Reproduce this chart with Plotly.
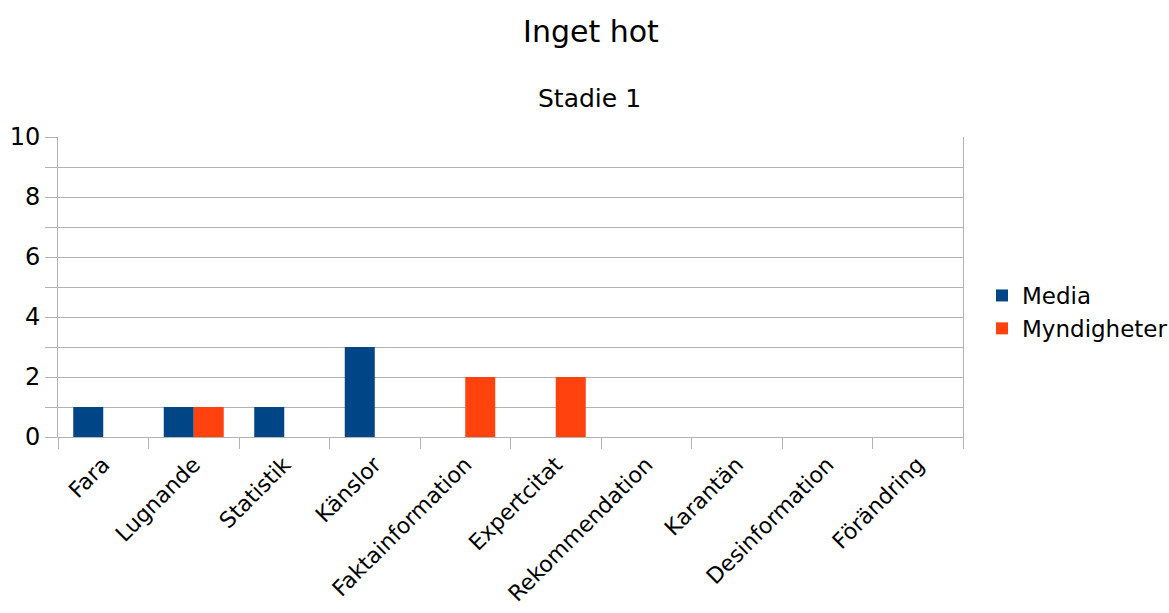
import plotly.graph_objects as go

categories = ["Fara", "Lugnande", "Statistik", "Känslor", "Faktainformation",
              "Expertcitat", "Rekommendation", "Karantän", "Desinformation", "Förändring"]
media = [1, 1, 1, 3, 0, 0, 0, 0, 0, 0]
myndigheter = [0, 1, 0, 0, 2, 2, 0, 0, 0, 0]
y_ticks = [0, 2, 4, 6, 8, 10]

FONT = "DejaVu Sans"
GRID = "#b3b3b3"

fig = go.Figure()
fig.add_trace(go.Bar(x=categories, y=media, name="Media", marker_color="#004586",
                     marker_line_width=0))
fig.add_trace(go.Bar(x=categories, y=myndigheter, name="Myndigheter", marker_color="#ff420e",
                     marker_line_width=0))

fig.update_layout(
    width=1169, height=613,
    margin=dict(l=58, r=206, t=137, b=176, autoexpand=False),
    paper_bgcolor="white", plot_bgcolor="white",
    font=dict(family=FONT, color="black", size=20),
    barmode="group", bargap=0.337, bargroupgap=0,
    title=dict(text="Inget hot", x=591/1169, xanchor="center", y=1-31/613, yanchor="middle",
               font=dict(family=FONT, size=30, color="black")),
    legend=dict(x=(982-58)/905, xanchor="left", y=(437-312)/300, yanchor="middle",
                font=dict(family=FONT, size=23, color="black"),
                itemwidth=30, tracegroupgap=0, bgcolor="rgba(0,0,0,0)"),
    annotations=[dict(text="Stadie 1", xref="paper", yref="paper",
                      x=(589-58)/905, y=(437-99)/300, xanchor="center", yanchor="middle",
                      showarrow=False, font=dict(family=FONT, size=25, color="black"))],
)

fig.update_xaxes(
    type="category", range=[-0.5, 9.5], automargin=False,
    showline=True, linecolor=GRID, linewidth=1, mirror=False,
    showgrid=False,
    ticks="outside", tickson="boundaries", ticklen=11, tickcolor=GRID, tickwidth=1,
    ticklabelstandoff=5,
    tickangle=-45, tickfont=dict(family=FONT, size=22, color="black"),
)
fig.update_yaxes(
    range=[0, 10], tickvals=y_ticks, automargin=False,
    showline=True, linecolor=GRID, linewidth=1, mirror=True,
    showgrid=True, gridcolor=GRID, gridwidth=1,
    ticks="outside", ticklen=12, tickcolor=GRID, tickwidth=1,
    minor=dict(dtick=1, showgrid=True, gridcolor=GRID, gridwidth=1,
               ticks="outside", ticklen=12, tickcolor=GRID, tickwidth=1),
    tickfont=dict(family=FONT, size=24, color="black"),
    zeroline=False,
)

fig.write_html("out.html", config={"displayModeBar": False},
               post_script="document.body.style.margin='0';document.body.style.padding='0';")
